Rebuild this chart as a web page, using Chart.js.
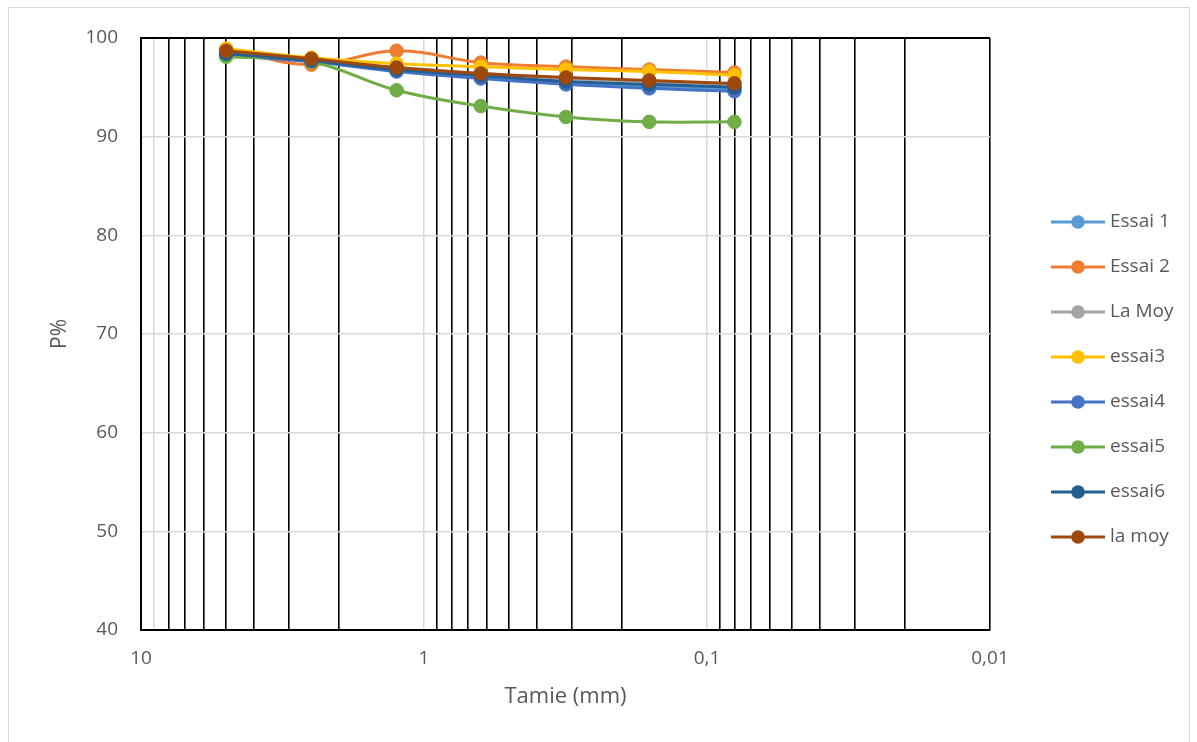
<!DOCTYPE html>
<html><head><meta charset="utf-8">
<script src="https://cdn.jsdelivr.net/npm/chart.js@4.4.0/dist/chart.umd.min.js"></script>
<style>
html,body{margin:0;padding:0;background:#fff;overflow:hidden}
#frame{position:absolute;left:8px;top:7px;width:1182px;height:800px;border:1px solid #D9D9D9;box-sizing:border-box}
#wrap{position:absolute;left:0;top:0;width:1197px;height:742px}
</style></head><body>
<div id="frame"></div>
<div id="wrap"><canvas id="c"></canvas></div>
<script>
const sizes = [5, 2.5, 1.25, 0.63, 0.315, 0.16, 0.08];
const seriesNames = ['Essai 1', 'Essai 2', 'La Moy', 'essai3', 'essai4', 'essai5', 'essai6', 'la moy'];
const essai1 = [98.3, 97.7, 96.8, 96.1, 95.5, 95.1, 94.8];
const essai2 = [98.9, 97.3, 98.7, 97.5, 97.1, 96.8, 96.5];
const laMoy1 = [98.6, 97.8, 97.0, 96.4, 95.9, 95.6, 95.3];
const essai3 = [98.9, 98.0, 97.4, 97.1, 96.8, 96.6, 96.25];
const essai4 = [98.2, 97.6, 96.6, 95.9, 95.3, 94.9, 94.6];
const essai5 = [98.1, 97.6, 94.7, 93.1, 92.0, 91.5, 91.5];
const essai6 = [98.4, 97.7, 96.8, 96.2, 95.6, 95.3, 95.0];
const laMoy2 = [98.7, 97.9, 97.0, 96.4, 96.0, 95.7, 95.4];
const seriesValues = [essai1, essai2, laMoy1, essai3, essai4, essai5, essai6, laMoy2];
const seriesColors = ['#5B9BD5', '#ED7D31', '#A5A5A5', '#FFC000', '#4472C4', '#70AD47', '#255E91', '#9E480E'];
const xTickValues = [10, 1, 0.1, 0.01];
const xTickLabels = ['10', '1', '0,1', '0,01'];
const yTickValues = [40, 50, 60, 70, 80, 90, 100];

const FONT = "'Open Sans', Lato, sans-serif";
const TXT = '#595959';

// grid positions for a log scale: 1..9 x 10^e
const gridValues = [];
for (let e = -2; e <= 0; e++) {
  for (let m = 1; m <= 9; m++) gridValues.push(Number((m * Math.pow(10, e)).toPrecision(6)));
}
gridValues.push(10);

const near = (a, b) => Math.abs(a - b) / b < 1e-6;

const datasets = seriesNames.map((name, i) => ({
  label: name,
  data: sizes.map((s, k) => ({x: s, y: seriesValues[i][k]})),
  borderColor: seriesColors[i],
  backgroundColor: seriesColors[i],
  pointBackgroundColor: seriesColors[i],
  pointBorderColor: seriesColors[i],
  borderWidth: 3,
  pointRadius: 6.8,
  pointBorderWidth: 1,
  tension: 0.4,
  order: seriesNames.length - i
}));

const legendPlugin = {
  id: 'customLegend',
  afterDraw(chart) {
    const ctx = chart.ctx;
    ctx.save();
    chart.data.datasets.forEach((ds, i) => {
      const y = 222 + i * 45;
      ctx.strokeStyle = ds.borderColor;
      ctx.lineWidth = 3;
      ctx.beginPath(); ctx.moveTo(1051, y); ctx.lineTo(1105, y); ctx.stroke();
      ctx.fillStyle = ds.borderColor;
      ctx.beginPath(); ctx.arc(1078, y, 6.8, 0, Math.PI * 2); ctx.fill();
      ctx.fillStyle = TXT;
      ctx.font = "19px " + FONT;
      ctx.textBaseline = 'middle';
      ctx.textAlign = 'left';
      ctx.fillText(ds.label, 1110, y);
    });
    ctx.restore();
  }
};

new Chart(document.getElementById('c'), {
  type: 'line',
  data: {datasets},
  plugins: [legendPlugin],
  options: {
    responsive: true,
    maintainAspectRatio: false,
    animation: false,
    devicePixelRatio: 1,
    layout: {padding: {left: 0, top: 38, right: 207, bottom: 0}},
    plugins: {legend: {display: false}, tooltip: {enabled: false}},
    scales: {
      x: {
        type: 'logarithmic',
        reverse: true,
        min: 0.01,
        max: 10,
        afterBuildTicks: (s) => { s.ticks = gridValues.map(v => ({value: v})); },
        afterFit: (s) => { s.height = 112; },
        ticks: {
          autoSkip: false,
          maxRotation: 0,
          padding: 17,
          color: TXT,
          font: {family: FONT, size: 19},
          callback: (v) => {
            const i = xTickValues.findIndex(t => near(v, t));
            return i >= 0 ? xTickLabels[i] : '';
          }
        },
        grid: {
          drawTicks: false,
          color: (c) => {
            const v = c.tick ? c.tick.value : 0;
            if (near(v, 1) || near(v, 0.1) || near(v, 9)) return '#D9D9D9';
            return '#000000';
          },
          lineWidth: (c) => {
            const v = c.tick ? c.tick.value : 0;
            if (near(v, 1) || near(v, 0.1) || near(v, 9)) return 1.5;
            return 1.6;
          }
        },
        border: {color: '#000000', width: 2},
        title: {display: true, text: 'Tamie (mm)', color: TXT, font: {family: FONT, size: 22}, padding: {top: 0, bottom: 32}}
      },
      y: {
        min: 40,
        max: 100,
        afterBuildTicks: (s) => { s.ticks = yTickValues.map(v => ({value: v})); },
        afterFit: (s) => { s.width = 141; },
        ticks: {padding: 23, color: TXT, font: {family: FONT, size: 19}},
        grid: {
          drawTicks: false,
          color: (c) => (c.tick && c.tick.value === 100) ? '#000000' : '#D9D9D9',
          lineWidth: (c) => (c.tick && c.tick.value === 100) ? 2 : 1.5
        },
        border: {color: '#000000', width: 2},
        title: {display: true, text: 'P%', color: TXT, font: {family: FONT, size: 21}, padding: {top: 47, bottom: 0}}
      }
    }
  }
});
</script>
</body></html>
